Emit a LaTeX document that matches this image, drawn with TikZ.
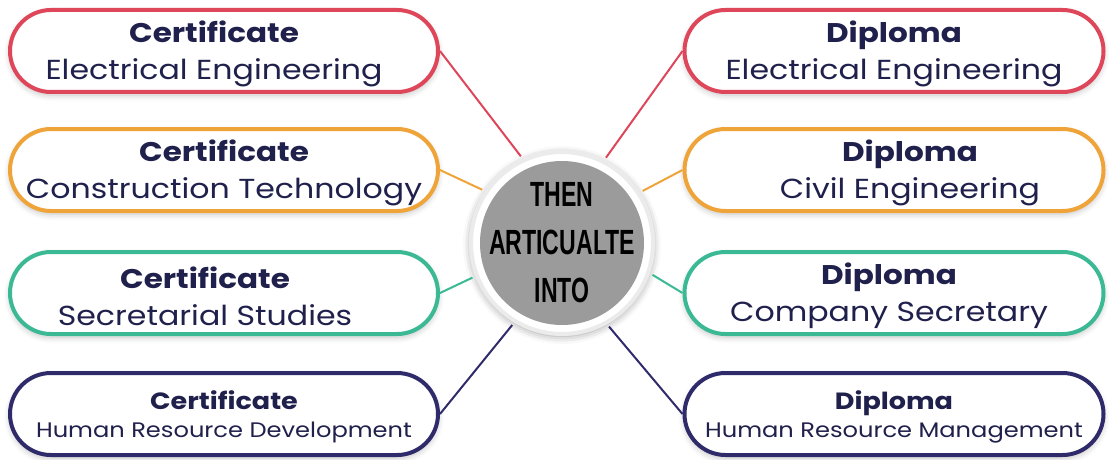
\documentclass[tikz,border=0pt]{standalone}
\usepackage{fontspec}
\setmainfont{Poppins}[FakeStretch=1.15]
\newfontfamily\hubfont[FakeStretch=0.66]{Liberation Sans}
\usetikzlibrary{positioning,shadows.blur}
\definecolor{certred}{HTML}{DE465A}
\definecolor{certorange}{HTML}{EFA43A}
\definecolor{certteal}{HTML}{3BB995}
\definecolor{certnavy}{HTML}{2F2B6B}
\definecolor{textnavy}{HTML}{20204C}
\definecolor{hubgray}{HTML}{9B9B9B}
\newcommand{\headline}[1]{{\fontsize{27}{37}\bfseries\rule{0pt}{28pt}#1}}
\newcommand{\smallheadline}[1]{{\fontsize{23.5}{28}\bfseries\rule{0pt}{25pt}#1}}

\begin{document}
\begin{tikzpicture}[x=1pt,y=-1pt,
    course/.style={draw,line width=4pt,fill=white,rounded corners=41pt,
      minimum width=428pt,minimum height=82pt,align=center,text=textnavy,
      font=\fontsize{27.5}{37}\selectfont,
      blur shadow={shadow xshift=0pt,shadow yshift=-3pt,shadow opacity=25,shadow blur radius=6pt}},
    smallcourse/.style={course,font=\fontsize{21}{28}\selectfont},
    link/.style={line width=2pt,shorten >=3pt},
    hub/.style={circle,fill=white,draw=black!8,line width=4pt,minimum size=182pt,
      blur shadow={shadow xshift=0pt,shadow yshift=-2pt,shadow opacity=40,shadow blur radius=8pt}},
    core/.style={circle,fill=hubgray,minimum size=164pt,inner sep=0pt},
    hubtext/.style={align=center,font=\hubfont\bfseries\fontsize{35}{48}\selectfont}]
       \useasboundingbox (0,0) rectangle (1109,460);

       \coordinate (CL1) at (224,51);
       \coordinate (CL2) at (224,170);
       \coordinate (CL3) at (224,293);
       \coordinate (CL4) at (224,414);

       \coordinate (CR1) at (894,51);
       \coordinate (CR2) at (894,170);
       \coordinate (CR3) at (894,293);
       \coordinate (CR4) at (894,414);

       \coordinate (H) at (562,243);

       \node[course,draw=certred] (certelec) at (CL1) {\headline{Certificate}\hspace*{20pt}\\Electrical Engineering\hspace*{20pt}};
       \node[course,draw=certorange] (certconst) at (CL2) {\headline{Certificate}\\Construction Technology};
       \node[course,draw=certteal] (certsec) at (CL3) {\headline{Certificate}\hspace*{38pt}\\Secretarial Studies\hspace*{38pt}};
       \node[smallcourse,draw=certnavy] (certhr) at (CL4) {\smallheadline{Certificate}\\Human Resource Development};

       \node[course,draw=certred,minimum width=419pt] (diplelec) at (CR1) {\headline{Diploma}\\Electrical Engineering};
       \node[course,draw=certorange,minimum width=419pt] (diplcivil) at (CR2) {\hspace*{32pt}\headline{Diploma}\\\hspace*{32pt}Civil Engineering};
       \node[course,draw=certteal,minimum width=419pt] (diplsec) at (CR3) {\headline{Diploma}\hspace*{10pt}\\Company Secretary\hspace*{10pt}};
       \node[smallcourse,draw=certnavy,minimum width=419pt] (diplhr) at (CR4) {\smallheadline{Diploma}\\Human Resource Management};

       \node[hub] (hub) at (H) {};
       \node[core] (core) at (H) {};
       \node[hubtext] (hubtext) at (H) {THEN\\ARTICUALTE\\INTO};

       \draw[link,certred] (certelec.east) -- (hub.115);
       \draw[link,certorange] (certconst.east) -- (hub.146);
       \draw[link,certteal] (certsec.east) -- (hub.201);
       \draw[link,certnavy] (certhr.east) -- (hub.239);

       \draw[link,certred] (diplelec.west) -- (hub.63);
       \draw[link,certorange] (diplcivil.west) -- (hub.33);
       \draw[link,certteal] (diplsec.west) -- (hub.-19);
       \draw[link,certnavy] (diplhr.west) -- (hub.-61);
     \end{tikzpicture}
\end{document}
